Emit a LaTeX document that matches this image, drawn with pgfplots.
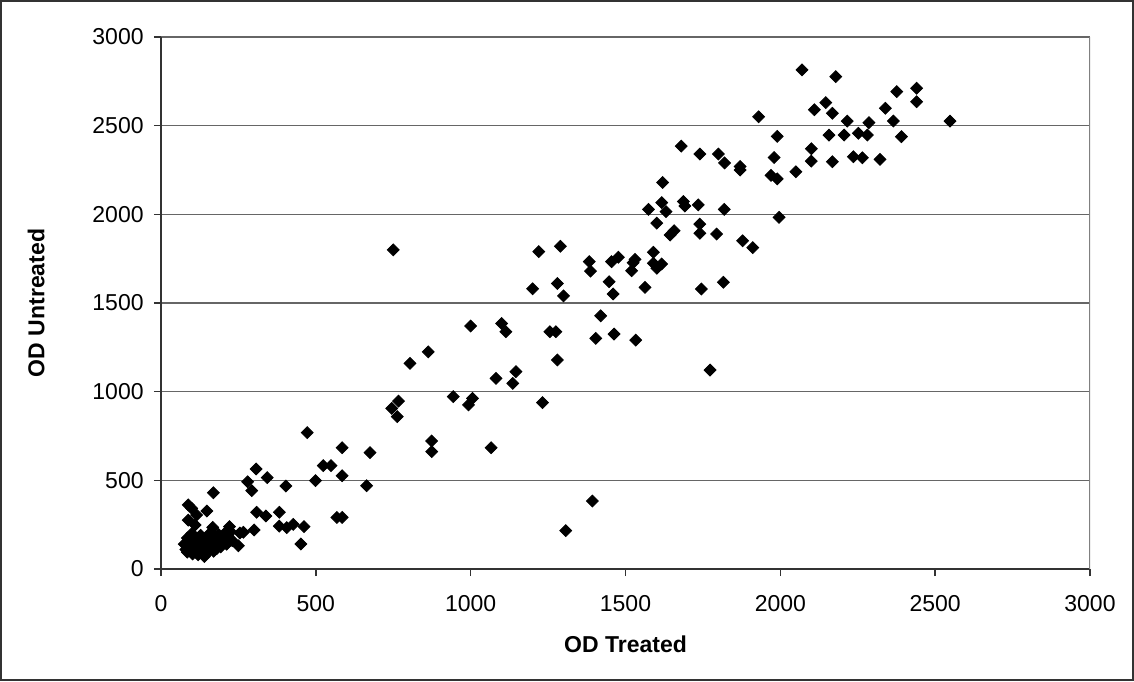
\documentclass[border=0pt]{standalone}
\usepackage{pgfplots}
\pgfplotsset{compat=1.18}
\usepackage{fontspec}
\setmainfont{Liberation Sans}
\pgfplotstableread{
x y
2070 2815
2179 2776
2147 2630
2168 2570
2376 2692
2440 2711
2440 2635
2339 2598
2110 2590
1930 2550
2216 2526
2286 2517
2365 2526
2548 2526
2157 2447
2206 2447
2252 2457
2281 2447
2391 2438
1990 2440
2168 2297
2236 2325
2265 2319
2322 2310
2100 2370
2100 2300
1980 2320
1680 2385
1740 2340
1800 2340
1820 2290
1870 2270
1870 2250
2050 2240
1970 2220
1990 2200
1620 2180
1996 1983
1574 2028
1617 2066
1631 2015
1601 1950
1687 2072
1692 2047
1735 2053
1819 2028
1740 1945
1740 1893
1794 1889
1644 1883
1657 1908
1878 1851
1911 1812
1590 1786
1383 1733
1387 1680
1455 1733
1477 1758
1531 1746
1525 1727
1520 1682
1590 1724
1617 1720
1601 1696
1447 1620
1460 1551
1563 1588
1745 1579
1816 1617
1420 1428
1404 1301
1463 1325
1533 1291
1773 1122
1393 383
1290 1820
1220 1790
1200 1580
1280 1610
1300 1540
1256 1338
1275 1338
1100 1385
1114 1338
1000 1370
750 1800
863 1225
804 1160
767 947
745 906
763 859
944 972
1006 962
993 925
1232 938
1082 1075
1146 1113
1136 1047
1280 1179
874 722
874 662
1066 684
675 656
664 470
1307 216
472 769
585 684
524 583
549 583
585 526
499 498
307 564
343 515
280 492
293 442
403 468
169 430
88 361
99 342
148 327
115 304
88 276
110 248
309 320
339 299
382 320
382 242
406 233
427 252
462 239
452 141
568 291
585 291
167 235
221 239
301 220
266 207
250 131
255 203
75 140
80 110
85 95
90 130
92 160
95 100
98 180
100 120
102 85
105 150
108 110
110 135
112 95
115 170
118 125
120 80
122 145
125 105
128 190
130 130
132 90
135 160
138 115
140 140
142 100
145 175
148 125
150 150
152 95
155 135
158 110
160 165
162 140
165 120
168 185
170 100
172 150
175 130
178 170
180 115
183 145
186 195
190 160
193 125
196 180
200 150
205 200
208 165
212 140
215 190
220 175
225 210
230 160
140 70
100 200
85 175
160 205
}\datatable
\begin{document}
\begin{tikzpicture}
\begin{axis}[
  scale only axis, width=464.5pt, height=266pt,
  xmin=0, xmax=3000, ymin=0, ymax=3000,
  xtick={0,500,...,3000}, ytick={0,500,...,3000},
  axis lines*=left,
  axis line style={black!80, line width=0.8pt},
  ymajorgrids, grid style={black!60, line width=0.8pt},
  tick align=outside, major tick length=3.5pt,
  tick style={black!80, line width=0.8pt},
  /pgf/number format/assume math mode=true,
  /pgf/number format/set thousands separator={},
  ticklabel style={font=\fontsize{11.5}{13}\selectfont},
  xticklabel style={anchor=north, inner sep=0pt, yshift=-9.5pt},
  yticklabel style={anchor=east, inner sep=0pt, xshift=-5pt},
  xlabel={OD Treated}, ylabel={OD Untreated},
  label style={font=\bfseries\fontsize{11.5}{13}\selectfont},
  xlabel style={at={(axis description cs:0.5,0)}, anchor=north, yshift=-33pt, inner sep=0pt},
  ylabel style={at={(axis description cs:-0.1249,0.5)}, anchor=south, inner sep=0pt},
]
\addplot[only marks, mark=square*, mark size=2.1pt, black,
  every mark/.append style={rotate=45, fill=black}] table[x=x,y=y] {\datatable};
\draw[black!50, line width=1pt] (rel axis cs:1,0) -- (rel axis cs:1,1);
\coordinate (bl) at (axis description cs:-0.17223,-0.20865);
\coordinate (tr) at (axis description cs:1.04629,1.06767);
\end{axis}
\draw[black!80, line width=1pt] (bl) rectangle (tr);
\end{tikzpicture}
\end{document}
